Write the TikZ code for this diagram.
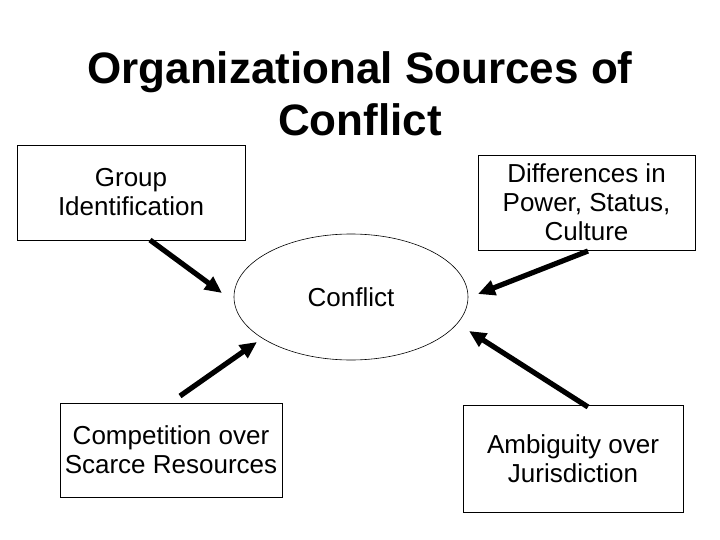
\documentclass[tikz,border=0pt]{standalone}
\usepackage{fontspec}
\setmainfont{Liberation Sans}
\usetikzlibrary{arrows.meta,positioning,shapes.geometric}

\begin{document}
\begin{tikzpicture}[x=1pt, y=-1pt, >={Triangle[length=17pt,width=15pt]},
  box/.style={rectangle,draw,line width=0.8pt,align=center,inner sep=0pt,
    font=\fontsize{26}{29}\selectfont},
  arr/.style={->,line width=5.2pt}]
  \useasboundingbox (0,0) rectangle (720,540);
  \node[font=\bfseries\fontsize{44}{52}\selectfont, align=center] (title) at (360,94)
    {Organizational Sources of\\Conflict};
  \node[ellipse, draw, line width=0.6pt, minimum width=234pt, minimum height=126pt,
    font=\fontsize{26}{29}\selectfont] (conf) at (351,297) {Conflict};
  \node[box, minimum width=228pt, minimum height=95pt] (grp) at (131,192.5)
    {Group\\Identification};
  \node[box, minimum width=217pt, minimum height=95pt] (diff) at (586.5,202.5)
    {Differences in\\Power, Status,\\Culture};
  \node[box, minimum width=222pt, minimum height=94pt] (comp) at (171,450)
    {Competition over\\Scarce Resources};
  \node[box, minimum width=220pt, minimum height=107pt] (amb) at (573,458.5)
    {Ambiguity over\\Jurisdiction};
  \coordinate (grp-out) at (150,240);
  \coordinate (grp-in) at (222,293);
  \coordinate (comp-out) at (180,396);
  \coordinate (comp-in) at (257,342);
  \coordinate (diff-out) at (588,251);
  \coordinate (diff-in) at (478,294);
  \coordinate (amb-out) at (588,407);
  \coordinate (amb-in) at (469,331);
  \draw[arr] (grp-out) -- (grp-in);
  \draw[arr] (comp-out) -- (comp-in);
  \draw[arr] (diff-out) -- (diff-in);
  \draw[arr] (amb-out) -- (amb-in);
\end{tikzpicture}
\end{document}
